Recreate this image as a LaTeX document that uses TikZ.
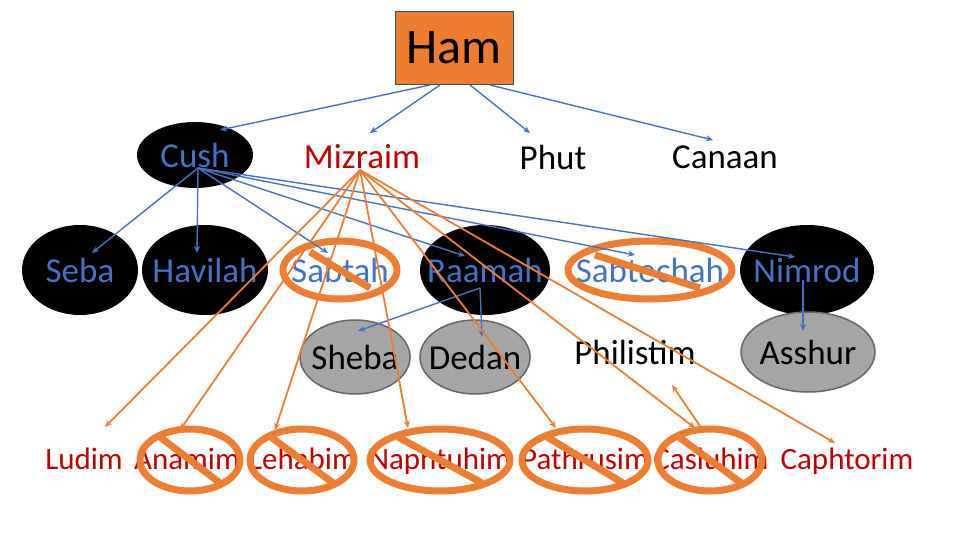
\documentclass[tikz,border=0pt]{standalone}
\usepackage{fontspec}
\setmainfont{Carlito}
\usetikzlibrary{shapes.geometric,arrows.meta}
\definecolor{bl}{HTML}{4472C4}
\definecolor{og}{HTML}{ED7D31}
\definecolor{rd}{HTML}{C00000}
\definecolor{gr}{HTML}{A5A5A5}
\tikzset{
 t/.style={font=\fontsize{35}{40}\selectfont,inner sep=0pt},
 r/.style={text=rd,font=\fontsize{31}{34}\selectfont,inner sep=0pt,anchor=base},
 blk/.style={ellipse,fill=black,inner sep=0pt},
 gry/.style={ellipse,fill=gr,draw=gray!80!black,line width=1.5pt,inner sep=0pt},
 barr/.style={draw=bl,line width=1.4pt,-{Stealth[length=7pt,width=6pt]}},
 oarr/.style={draw=og,line width=1.8pt,-{Stealth[length=7pt,width=6pt]}},
 ringl/.style={og,line width=7pt},
}
\begin{document}
\begin{tikzpicture}[x=1pt,y=-1pt]
\useasboundingbox (0,0) rectangle (960,540);
\node[draw=black!70,fill=og,line width=1pt,minimum width=118pt,minimum height=73pt,font=\fontsize{50}{56}\selectfont] (ham) at (454,48) {Ham};
\node[blk,minimum width=116pt,minimum height=66pt] (cush) at (195,155) {};
\node[t,text=bl] (cusht) at (cush) {Cush};
\node[t,text=rd] (miz) at (362,157) {Mizraim};
\node[t] (phut) at (553,157) {Phut};
\node[t] (can) at (725,157) {Canaan};
\node[blk,minimum width=116pt,minimum height=90pt] (seba) at (80,270) {};
\node[blk,minimum width=126pt,minimum height=90pt] (hav) at (205,270) {};
\node[blk,minimum width=130pt,minimum height=90pt] (raa) at (485,270) {};
\node[blk,minimum width=134pt,minimum height=90pt] (nim) at (807,270) {};
\node[t,text=bl] (sebat) at (seba) {Seba};
\node[t,text=bl] (havt) at (hav) {Havilah};
\node[t,text=bl] (raat) at (raa) {Raamah};
\node[t,text=bl] (nimt) at (nim) {Nimrod};
\node[t,text=bl] (sab) at (340,270) {Sabtah};
\node[t,text=bl] (sbc) at (650,270) {Sabtechah};
\node[gry,minimum width=110pt,minimum height=74pt] (she) at (355,357) {};
\node[gry,minimum width=110pt,minimum height=74pt] (ded) at (475,357) {};
\node[gry,minimum width=134pt,minimum height=80pt] (ass) at (808,352) {};
\node[t] (shet) at (she) {Sheba};
\node[t] (dedt) at (ded) {Dedan};
\node[t] (asst) at (ass) {Asshur};
\node[t] (phi) at (635,352) {Philistim};
% row 4
\node[r] (lud) at (84,469) {Ludim};
\node[r] (ana) at (187,469) {Anamim};
\node[r] (leh) at (303,469) {Lehabim};
\node[r] (nap) at (440,469) {Naphtuhim};
\node[r] (pat) at (585,469) {Pathrusim};
\node[r] (cas) at (711,469) {Casluhim};
\node[r] (cap) at (847,469) {Caphtorim};
% rings
\draw[ringl] (340,270) ellipse [x radius=57, y radius=29];
\draw[ringl] (310,252) -- (370,288);
\draw[ringl] (650,270) ellipse [x radius=82, y radius=29];
\draw[ringl] (595,255) -- (700,288);
\foreach \x/\rx in {190/50,302/52,440/70,585/63,710/52}{
 \draw[ringl] (\x,460) ellipse [x radius=\rx, y radius=31];
 \draw[ringl] (\x-\rx*0.6,437) -- (\x+\rx*0.6,483);
}
% blue arrows
\draw[barr] ([xshift=-24pt]ham.south) -- (220,130);
\draw[barr] ([xshift=-14pt]ham.south) -- (370,133);
\draw[barr] ([xshift=16pt]ham.south) -- (530,133);
\draw[barr] ([xshift=36pt]ham.south) -- (713,140);
\coordinate (cs) at (198,168);
\draw[barr] (cs) -- (92,253);
\draw[barr] (cs) -- (197,253);
\draw[barr] (cs) -- (328,253);
\draw[barr] (cs) -- (465,256);
\draw[barr] (cs) -- (635,255);
\draw[barr] (cs) -- (795,257);
\coordinate (rs) at (480,288);
\draw[barr] (rs) -- (358,331);
\draw[barr] (rs) -- (482,337);
\draw[barr] (803,280) -- (803,331);
% orange arrows
\coordinate (ms) at (360,170);
\draw[oarr] (ms) -- (105,427);
\draw[oarr] (ms) -- (180,430);
\draw[oarr] (ms) -- (275,430);
\draw[oarr] (ms) -- (408,428);
\draw[oarr] (ms) -- (556,428);
\draw[oarr] (ms) -- (695,428);
\draw[oarr] (ms) -- (835,443);
\draw[oarr] (700,426) -- (672,385);
\end{tikzpicture}
\end{document}
